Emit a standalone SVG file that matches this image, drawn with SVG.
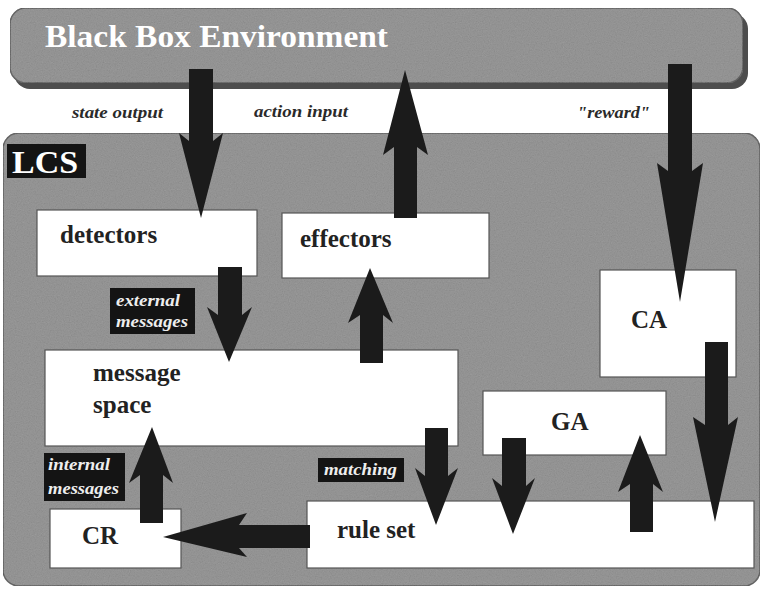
<svg xmlns="http://www.w3.org/2000/svg" width="763" height="589" viewBox="0 0 763 589">
<defs>
<filter id="grain" x="0" y="0" width="100%" height="100%">
  <feTurbulence type="fractalNoise" baseFrequency="0.85" numOctaves="2" seed="4" result="n"/>
  <feColorMatrix in="n" type="matrix" values="0.33 0.33 0.33 0 0  0.33 0.33 0.33 0 0  0.33 0.33 0.33 0 0  0 0 0 0 0.14" result="g"/>
  <feComposite in="g" in2="SourceGraphic" operator="in" result="gc"/>
  <feMerge><feMergeNode in="SourceGraphic"/><feMergeNode in="gc"/></feMerge>
</filter>
</defs>
<style>
.bg{fill:#fff}
.panel{fill:#8b8b8b;stroke:#4a4a4a;stroke-width:1.5}
.shadow{fill:#4d4d4d}
.box{fill:#fff;stroke:#555;stroke-width:1.2}
.arrow{fill:#1b1b1b}
.title{font-family:"Liberation Serif",serif;font-weight:bold;fill:#fff}
.node{font-family:"Liberation Serif",serif;font-weight:bold;font-size:25px;fill:#222}
.lab{font-family:"Liberation Serif",serif;font-weight:bold;font-style:italic;font-size:16px;fill:#2a2a2a}
.tag{fill:#141414}
.tagt{font-family:"Liberation Serif",serif;font-weight:bold;font-style:italic;font-size:16px;fill:#eee}
</style>
<rect class="bg" x="0" y="0" width="763" height="589"/>

<g id="environment">
  <rect class="shadow" x="14" y="13" width="734" height="76" rx="16"/>
  <rect class="panel" x="10" y="8" width="733" height="75" rx="16" filter="url(#grain)"/>
  <text class="title" x="45" y="47" font-size="32" textLength="343" lengthAdjust="spacingAndGlyphs">Black Box Environment</text>
</g>

<g id="flow-labels">
  <text class="lab" x="72" y="118" textLength="91" lengthAdjust="spacingAndGlyphs">state output</text>
  <text class="lab" x="254" y="117" textLength="94" lengthAdjust="spacingAndGlyphs">action input</text>
  <text class="lab" x="577" y="118" textLength="73" lengthAdjust="spacingAndGlyphs">"reward"</text>
</g>

<g id="lcs">
  <rect class="panel" x="3" y="133" width="757" height="453" rx="16" filter="url(#grain)"/>
  <rect class="tag" x="7" y="144" width="79" height="34"/>
  <text class="title" x="12" y="173" font-size="32" textLength="66" lengthAdjust="spacingAndGlyphs">LCS</text>
</g>

<g id="detectors">
  <rect class="box" x="37" y="210" width="220" height="66"/>
  <text class="node" x="60" y="243">detectors</text>
</g>

<g id="effectors">
  <rect class="box" x="282" y="213" width="207" height="65"/>
  <text class="node" x="300" y="247">effectors</text>
</g>

<g id="ca">
  <rect class="box" x="600" y="270" width="136" height="107"/>
  <text class="node" x="631" y="328">CA</text>
</g>

<g id="message-space">
  <rect class="box" x="45" y="350" width="413" height="96"/>
  <text class="node" x="93" y="381">message</text>
  <text class="node" x="93" y="413">space</text>
</g>

<g id="ga">
  <rect class="box" x="483" y="391" width="183" height="64"/>
  <text class="node" x="551" y="430">GA</text>
</g>

<g id="cr">
  <rect class="box" x="50" y="509" width="131" height="59"/>
  <text class="node" x="82" y="544">CR</text>
</g>

<g id="rule-set">
  <rect class="box" x="307" y="501" width="447" height="67"/>
  <text class="node" x="337" y="538">rule set</text>
</g>

<g id="tags">
  <rect class="tag" x="110" y="288" width="85" height="46"/>
  <text class="tagt" x="116" y="306" textLength="64" lengthAdjust="spacingAndGlyphs">external</text>
  <text class="tagt" x="116" y="327" textLength="72" lengthAdjust="spacingAndGlyphs">messages</text>
  <rect class="tag" x="44" y="453" width="81" height="48"/>
  <text class="tagt" x="48" y="470" textLength="62" lengthAdjust="spacingAndGlyphs">internal</text>
  <text class="tagt" x="48" y="494" textLength="71" lengthAdjust="spacingAndGlyphs">messages</text>
  <rect class="tag" x="318" y="458" width="86" height="24"/>
  <text class="tagt" x="324" y="475" textLength="73" lengthAdjust="spacingAndGlyphs">matching</text>
</g>

<g id="connectors">
  <polygon class="arrow" points="189,69 213,69 213,141 223,133 201,218 179,133 189,141"/>
  <polygon class="arrow" points="394,218 417,218 417,147 428,155 405,70 383,155 394,147"/>
  <polygon class="arrow" points="668,64 692,64 692,171 703,163 680,302 657,163 668,171"/>
  <polygon class="arrow" points="218,267 242,267 242,315 252,307 229,362 207,307 218,315"/>
  <polygon class="arrow" points="360,363 383,363 383,315 393,323 370,268 348,323 360,315"/>
  <polygon class="arrow" points="140,523 163,523 163,475 173,483 152,427 129,483 140,475"/>
  <polygon class="arrow" points="310,525 310,548 239,548 247,557 163,537 247,513 239,525"/>
  <polygon class="arrow" points="425,428 448,428 448,476 458,468 436,525 415,468 425,476"/>
  <polygon class="arrow" points="502,438 526,438 526,486 535,478 513,534 492,478 502,486"/>
  <polygon class="arrow" points="630,532 653,532 653,484 663,492 640,435 618,492 630,484"/>
  <polygon class="arrow" points="705,342 728,342 728,425 738,417 715,522 693,417 705,425"/>
</g>
</svg>
